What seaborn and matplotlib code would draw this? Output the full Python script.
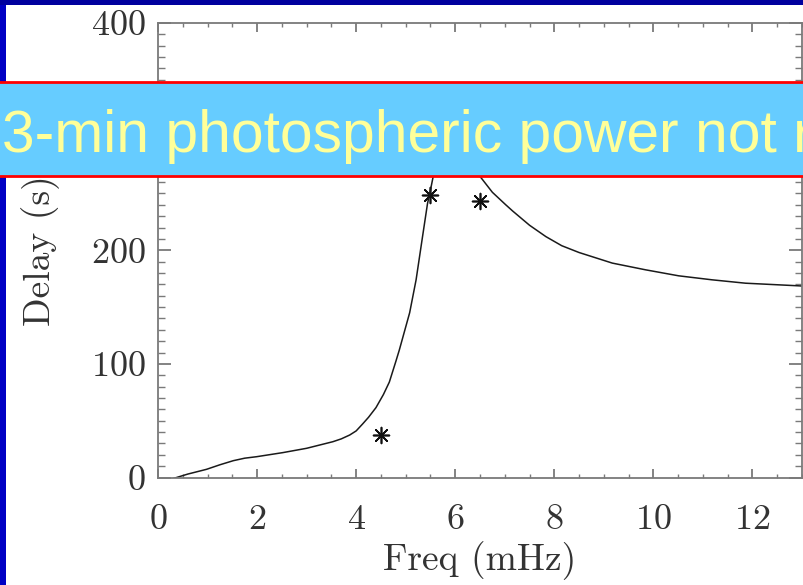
import matplotlib
matplotlib.use("Agg")
import matplotlib.pyplot as plt
from matplotlib.patches import Rectangle
from matplotlib.ticker import MultipleLocator
import seaborn as sns
import pandas as pd

# ---- data ----
freq = [0.30, 0.60, 0.98, 1.25, 1.52, 1.75, 1.99, 2.52, 3.00, 3.53, 3.70, 3.87,
        4.00, 4.13, 4.25, 4.40, 4.55, 4.67, 4.80, 4.87, 5.08, 5.21, 5.34, 5.44,
        5.50, 5.56, 5.65, 5.78, 5.92, 6.05, 6.20, 6.35, 6.50, 6.75, 7.02, 7.16,
        7.50, 7.83, 8.15, 8.50, 9.17, 9.84, 10.51, 11.18, 11.86, 12.93, 13.00]
delay = [-1.0, 3.0, 7.2, 11.2, 14.8, 17.0, 18.3, 21.9, 25.7, 31.5, 34.0, 37.4,
         41.0, 47.1, 53.0, 61.5, 73.0, 84.0, 102.0, 112.0, 145.0, 174.0, 212.0, 241.0,
         253.0, 266.0, 285.0, 306.0, 318.0, 318.0, 303.0, 284.0, 265.0, 251.0, 240.0, 234.5,
         222.0, 212.0, 204.0, 198.0, 188.7, 182.8, 177.5, 174.0, 171.0, 168.7, 168.5]
obs_freq = [4.5, 5.5, 6.5]
obs_delay = [37.0, 249.0, 243.0]

x_ticks = [0, 2, 4, 6, 8, 10, 12]
y_ticks = [0, 100, 200, 400]
xlabel = "Freq (mHz)"
ylabel = "Delay (s)"
banner = "3-min photospheric power not r"

curve = pd.DataFrame({"freq": freq, "delay": delay})
obs = pd.DataFrame({"freq": obs_freq, "delay": obs_delay})

sns.set_theme(style="white")
plt.rcParams["font.family"] = ["cmr10", "DejaVu Serif"]
plt.rcParams["axes.formatter.use_mathtext"] = True
plt.rcParams["mathtext.fontset"] = "cm"

W, H = 804, 585
fig = plt.figure(figsize=(W / 100, H / 100), dpi=100)
fig.patch.set_facecolor("white")

# slide frame strips
fig.add_artist(Rectangle((0, 0), 6 / W, 1, transform=fig.transFigure,
                         facecolor="#0000C4", edgecolor="none", zorder=0.5))
fig.add_artist(Rectangle((0, 1 - 5 / H), 1, 5 / H, transform=fig.transFigure,
                         facecolor="#00009E", edgecolor="none", zorder=0.5))

left, right, top, bottom = 158, 802, 23, 477.5
ax = fig.add_axes([left / W, 1 - bottom / H, (right - left) / W, (bottom - top) / H])
ax.set_facecolor("white")

sns.lineplot(data=curve, x="freq", y="delay", ax=ax, sort=False, estimator=None,
             color="#1a1a1a", linewidth=1.1)
sns.scatterplot(data=obs, x="freq", y="delay", ax=ax, marker=(8, 2, 0), s=130,
                color="#111111", linewidth=1.2, edgecolor="#111111")

ax.set_xlim(0, 13)
ax.set_ylim(0, 400)
ax.set_xticks(x_ticks)
ax.set_yticks(y_ticks)
ax.xaxis.set_minor_locator(MultipleLocator(0.5))
ax.yaxis.set_minor_locator(MultipleLocator(10))

axis_col = "#7a7a7a"
text_col = "#333333"
for s in ax.spines.values():
    s.set_visible(True)
    s.set_color(axis_col)
    s.set_linewidth(1.3)

ax.tick_params(axis="x", which="major", direction="in", length=6.5, width=1.3,
               color=axis_col, top=True, bottom=True, labelsize=26,
               labelcolor=text_col, pad=19)
ax.tick_params(axis="x", which="minor", direction="in", length=3.2, width=1.0,
               color=axis_col, top=True, bottom=True)
ax.tick_params(axis="y", which="major", direction="in", length=9.4, width=1.3,
               color=axis_col, left=True, right=True, labelsize=26,
               labelcolor=text_col, pad=9)
ax.tick_params(axis="y", which="minor", direction="in", length=4.7, width=1.0,
               color=axis_col, left=True, right=True)

ax.set_xlabel(xlabel, fontsize=27, color=text_col, labelpad=4)
ax.set_ylabel(ylabel, fontsize=27, color=text_col, labelpad=22)
ax.grid(False)

# banner overlay
y0 = 1 - 176 / H
y1 = 1 - 82 / H
fig.add_artist(Rectangle((-0.01, y0), 1.02, y1 - y0, transform=fig.transFigure,
                         facecolor="#66CCFF", edgecolor="#FF0000", linewidth=2.0,
                         zorder=5))
fig.text(2 / W, 1 - 152 / H, banner, fontsize=42.3, color="#FFFF99",
         family=["Liberation Sans", "DejaVu Sans"], va="baseline", ha="left",
         zorder=6)

fig.savefig("out.png", dpi=100)
